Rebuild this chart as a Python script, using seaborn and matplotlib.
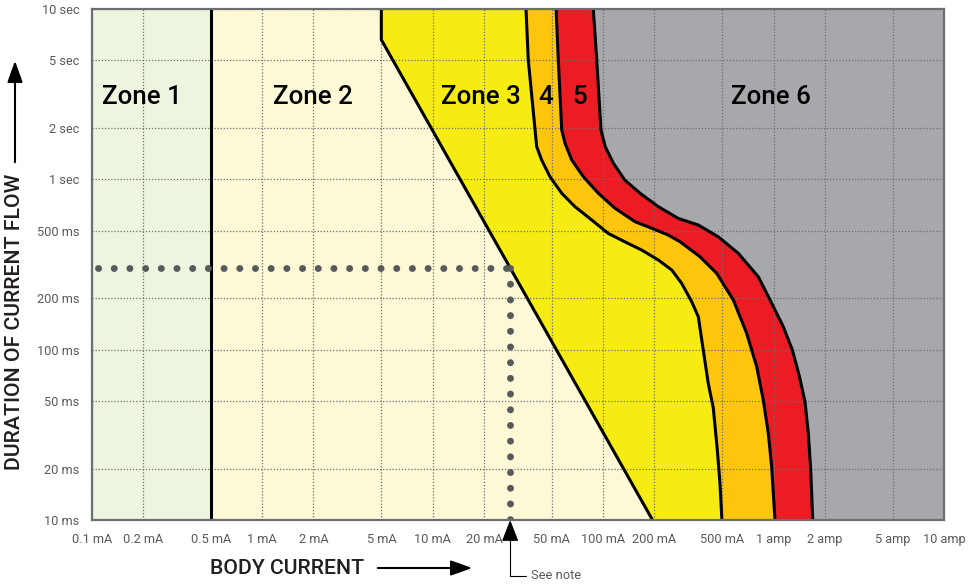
import matplotlib.pyplot as plt
from matplotlib.patches import FancyArrowPatch
import seaborn as sns

# Axis ticks (current in mA, duration in seconds)
x_ticks = [0.1, 0.2, 0.5, 1, 2, 5, 10, 20, 50, 100, 200, 500, 1000, 2000, 5000, 10000]
x_labels = ["0.1 mA", "0.2 mA", "0.5 mA", "1 mA", "2 mA", "5 mA", "10 mA", "20 mA",
            "50 mA", "100 mA", "200 mA", "500 mA", "1 amp", "2 amp", "5 amp", "10 amp"]
y_ticks = [0.01, 0.02, 0.05, 0.1, 0.2, 0.5, 1, 2, 5, 10]
y_labels = ["10 ms", "20 ms", "50 ms", "100 ms", "200 ms", "500 ms",
            "1 sec", "2 sec", "5 sec", "10 sec"]

# Zone boundaries (mA, s)
zone12_current = 0.5
b_current = [5, 5, 195]
b_time = [10, 6.6, 0.01]
c1_current = [35.3, 36.4, 39.9, 40.8, 43.6, 48.8, 57.2, 68.4, 85.8, 107, 134, 168,
              211, 253, 289, 331, 362, 387, 414, 443, 468, 485, 498]
c1_time = [10, 5.02, 1.949, 1.554, 1.299, 1.036, 0.828, 0.691, 0.577, 0.482, 0.430, 0.385,
           0.336, 0.2935, 0.2453, 0.1913, 0.1561, 0.0995, 0.0634, 0.0456, 0.02576, 0.01642, 0.01]
c2_current = [53.0, 54.6, 57.2, 59.8, 65.5, 76.6, 93.8, 117.5, 154, 193, 241, 283,
              370, 464, 581, 696, 797, 871, 932, 975, 1020]
c2_time = [10, 5.02, 1.949, 1.627, 1.299, 1.036, 0.828, 0.676, 0.564, 0.516, 0.471, 0.430,
           0.3513, 0.2807, 0.1957, 0.1247, 0.0794, 0.0506, 0.0323, 0.02056, 0.01]
c3_current = [87.6, 91.8, 97.2, 103, 115, 134, 165, 211, 276, 362, 474, 621,
              814, 954, 1141, 1290, 1420, 1530, 1600, 1652, 1698]
c3_time = [10, 5.02, 1.949, 1.554, 1.242, 0.991, 0.828, 0.691, 0.590, 0.539, 0.460, 0.368,
           0.268, 0.1957, 0.1364, 0.0995, 0.0694, 0.0495, 0.0323, 0.01984, 0.01]

# 30 mA / 300 ms reference point
ref_current = 28.5
ref_time = 0.3

zone_names = ["Zone 1", "Zone 2", "Zone 3", "4", "5", "Zone 6"]
zone_colors = ["#edf5e0", "#fdf9d6", "#f6ec13", "#fec50d", "#ec1c24", "#a7a8ac"]
zone_label_x = [0.059, 0.26, 0.457, 0.533, 0.572, 0.797]

sns.set_theme(style="white")
plt.rcParams['font.family'] = ['Roboto', 'DejaVu Sans']

fig = plt.figure(figsize=(9.77, 5.85), dpi=100)
ax = fig.add_axes([0.0939, 0.1111, 0.8723, 0.8735])
ax.set_xscale("log")
ax.set_yscale("log")
xmin, xmax = x_ticks[0], x_ticks[-1]
ymin, ymax = y_ticks[0], y_ticks[-1]

# zone fills, layered left to right
ax.axvspan(xmin, zone12_current, color=zone_colors[0], lw=0, zorder=0.5)
ax.axvspan(zone12_current, xmax, color=zone_colors[1], lw=0, zorder=0.5)
for cur, tim, col in [(b_current, b_time, zone_colors[2]),
                      (c1_current, c1_time, zone_colors[3]),
                      (c2_current, c2_time, zone_colors[4]),
                      (c3_current, c3_time, zone_colors[5])]:
    ax.fill(cur + [xmax, xmax], tim + [ymin, ymax], color=col, lw=0, zorder=0.6)

# boundary lines
ax.axvline(zone12_current, color="black", lw=2.2, zorder=3)
for cur, tim in [(b_current, b_time), (c1_current, c1_time),
                 (c2_current, c2_time), (c3_current, c3_time)]:
    sns.lineplot(x=cur, y=tim, sort=False, estimator=None, color="black",
                 lw=2.2, ax=ax, zorder=3, solid_joinstyle="round")

# dotted reference lines
dot_style = dict(ls=(0, (0.01, 2.25)), lw=5, color="#58595b",
                 dash_capstyle="round", zorder=4)
ax.plot([0.1084, ref_current], [ref_time, ref_time], **dot_style)
ax.plot([ref_current, ref_current], [ref_time, ymin], **dot_style)

ax.set_xlim(xmin, xmax)
ax.set_ylim(ymin, ymax)
ax.set_xticks(x_ticks)
ax.set_xticklabels(x_labels)
ax.set_yticks(y_ticks)
ax.set_yticklabels(y_labels)
ax.minorticks_off()
ax.set_xlabel("")
ax.set_ylabel("")
ax.tick_params(length=0, pad=9, labelsize=9.2, labelcolor="#58595b")
ax.set_axisbelow(False)
ax.grid(True, which="major", ls=(0, (1, 1.5)), color="#6d6e71", lw=0.9)
for sp in ax.spines.values():
    sp.set_color("#6d6e71")
    sp.set_linewidth(1.6)
    sp.set_zorder(5)

for name, xf in zip(zone_names, zone_label_x):
    ax.text(xf, 0.828, name, transform=ax.transAxes, ha="center", va="center",
            fontsize=18.6, fontweight="medium", color="black", zorder=6)

# see note
ax.annotate("See note", xy=(ref_current, ymin), xycoords="data",
            xytext=(15, -40), textcoords="offset points", ha="left", va="center",
            fontsize=9.3, color="#58595b", annotation_clip=False,
            arrowprops=dict(arrowstyle="-|>,head_length=0.9,head_width=0.35",
                            connectionstyle="angle,angleA=0,angleB=90,rad=0",
                            relpos=(0, 0.5), color="black", lw=0.8,
                            shrinkA=1, shrinkB=0, mutation_scale=15))

# axis titles with arrows
fig.text(287 / 977, 1 - 568 / 585, "BODY CURRENT", ha="center", va="center",
         fontsize=15.3, fontweight="medium", color="#231f20")
fig.add_artist(FancyArrowPatch(
    (375 / 977, 1 - 568 / 585), (475 / 977, 1 - 568 / 585), transform=fig.transFigure,
    arrowstyle="-|>,head_length=0.87,head_width=0.31", mutation_scale=15,
    color="black", lw=1.5))
fig.text(15 / 977, 1 - 321.5 / 585, "DURATION OF CURRENT FLOW", ha="center", va="center",
         rotation=90, fontsize=15.3, fontweight="medium", color="#231f20")
fig.add_artist(FancyArrowPatch(
    (15 / 977, 1 - 165 / 585), (15 / 977, 1 - 58 / 585), transform=fig.transFigure,
    arrowstyle="-|>,head_length=0.87,head_width=0.31", mutation_scale=15,
    color="black", lw=1.5))

fig.savefig("out.png", dpi=100)
